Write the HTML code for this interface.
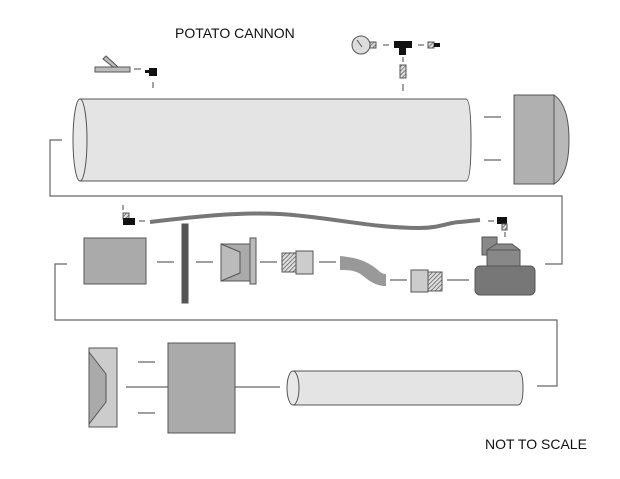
<!DOCTYPE html>
<html><head><meta charset="utf-8"><style>body{margin:0;background:#fff}svg{display:block}</style></head><body>
<svg width="620" height="479" viewBox="0 0 620 479" xmlns="http://www.w3.org/2000/svg">
<defs>
<pattern id="h" width="3" height="3" patternUnits="userSpaceOnUse" patternTransform="rotate(45)">
<rect width="3" height="3" fill="#ddd"/><line x1="0" y1="0" x2="0" y2="3" stroke="#444" stroke-width="1.2"/></pattern>
</defs>
<g font-family="Liberation Sans, sans-serif" fill="#111">
<text x="175" y="38" font-size="14">POTATO CANNON</text>
<text x="485" y="449" font-size="14">NOT TO SCALE</text>
</g>
<g stroke="#666" stroke-width="1.2" fill="none">
<!-- top left valve -->
<line x1="134" y1="69" x2="141" y2="69"/>
<line x1="153" y1="82" x2="153" y2="88"/>
<!-- gauge assembly -->
<line x1="383" y1="45" x2="389" y2="45"/>
<line x1="418" y1="45" x2="424" y2="45"/>
<line x1="403" y1="57" x2="403" y2="62"/>
<line x1="403" y1="84" x2="403" y2="91"/>
<!-- cap dashes -->
<line x1="484" y1="117" x2="501" y2="117"/>
<line x1="484" y1="160" x2="501" y2="160"/>
<!-- brackets -->
<polyline points="62,140 50,140 50,196 562,196 562,264 545,264"/>
<polyline points="67,264 55,264 55,320 557,320 557,386 537,386"/>
<line x1="123" y1="205" x2="123" y2="210"/>
<line x1="139" y1="221" x2="145" y2="221"/>
<line x1="488" y1="221" x2="494" y2="221"/>
<line x1="505" y1="232" x2="505" y2="237"/>
<!-- middle dashes -->
<line x1="157" y1="262" x2="174" y2="262"/>
<line x1="196" y1="262" x2="213" y2="262"/>
<line x1="260" y1="262" x2="277" y2="262"/>
<line x1="319" y1="262" x2="336" y2="262"/>
<line x1="390" y1="280" x2="407" y2="280"/>
<line x1="447" y1="280" x2="469" y2="280"/>
<!-- bottom -->
<line x1="138" y1="362" x2="155" y2="362"/>
<line x1="138" y1="413" x2="155" y2="413"/>
<line x1="126" y1="387" x2="168" y2="387"/>
<line x1="235" y1="387" x2="280" y2="387"/>
</g>
<g stroke="#555" stroke-width="1">
<!-- lever -->
<rect x="95" y="67" width="35" height="5" fill="#bbb"/>
<polygon points="103,59 106,56 118,67 113,67" fill="#bbb"/>
<rect x="149" y="68" width="8" height="8" fill="#111" stroke="none"/>
<rect x="145" y="70" width="4" height="3" fill="#111" stroke="none"/>
<!-- gauge -->
<circle cx="361" cy="45" r="9" fill="#ddd"/>
<line x1="357" y1="40" x2="362" y2="47" stroke="#555"/>
<rect x="370" y="42" width="6" height="6" fill="url(#h)"/>
<rect x="394" y="41" width="18" height="7" fill="#111" stroke="none"/>
<rect x="399" y="48" width="7" height="7" fill="#111" stroke="none"/>
<rect x="428" y="42" width="6" height="6" fill="url(#h)"/>
<rect x="434" y="43" width="6" height="4" fill="#111" stroke="none"/>
<rect x="400" y="65" width="6" height="13" fill="url(#h)"/>
<!-- main pipe -->
<path d="M80,99 L466,99 Q471,99 471,140 Q471,181 466,181 L80,181" fill="#e4e4e4"/>
<ellipse cx="80" cy="140" rx="7" ry="41" fill="#e8e8e8"/>
<!-- cap -->
<path d="M554,95 Q569,105 569,140 Q569,175 554,184 Z" fill="#b8b8b8"/>
<rect x="514" y="95" width="40" height="89" fill="#b0b0b0"/>
<!-- wire -->
<path d="M150,222 C200,216 240,212 280,214 C330,217 370,228 420,228 C440,228 450,222 460,222 L480,220" stroke="#777" stroke-width="4" fill="none"/>
<rect x="123" y="213" width="6" height="6" fill="url(#h)"/>
<rect x="123" y="218" width="12" height="7" fill="#111" stroke="none"/>
<rect x="497" y="217" width="10" height="7" fill="#111" stroke="none"/>
<rect x="502" y="224" width="5" height="6" fill="url(#h)"/>
<!-- middle row -->
<rect x="84" y="238" width="62" height="46" fill="#aaa"/>
<rect x="182" y="224" width="6" height="79" fill="#555"/>
<rect x="221" y="244" width="30" height="37" fill="#aaa"/>
<polygon points="221,244 240,252 240,273 221,281" fill="#bbb"/>
<rect x="250" y="238" width="6" height="46" fill="#bbb"/>
<rect x="282" y="253" width="14" height="19" fill="url(#h)"/>
<rect x="296" y="251" width="17" height="23" fill="#ccc"/>
<path d="M340,256 C360,258 368,262 378,270 C382,274 384,274 386,274 L386,286 C375,286 368,280 362,275 C355,270 348,270 340,270 Z" fill="#999" stroke="none"/>
<rect x="411" y="270" width="17" height="22" fill="#ccc"/>
<rect x="428" y="272" width="14" height="19" fill="url(#h)"/>
<rect x="482" y="237" width="15" height="18" fill="#888"/>
<polygon points="487,250 496,244 512,244 520,250 520,268 487,268" fill="#888"/>
<line x1="487" y1="250" x2="520" y2="250"/>
<rect x="475" y="266" width="60" height="29" rx="5" fill="#777"/>
<!-- bottom row -->
<rect x="89" y="348" width="28" height="79" fill="#ccc"/>
<polygon points="89,352 106,374 106,402 89,424" fill="#aaa"/>
<rect x="168" y="343" width="67" height="90" fill="#aaa"/>
<path d="M293,371 L518,371 Q523,371 523,388 Q523,405 518,405 L293,405" fill="#e4e4e4"/>
<ellipse cx="293" cy="388" rx="6" ry="17" fill="#e8e8e8"/>
</g>
</svg>
</body></html>
